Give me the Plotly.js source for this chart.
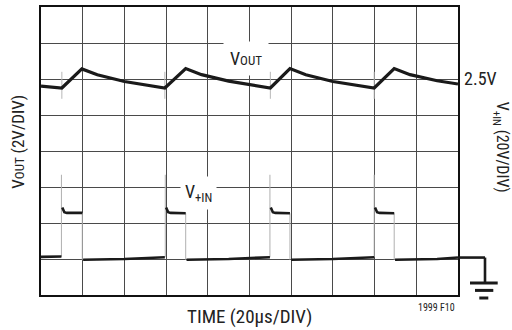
<!DOCTYPE html>
<html>
<head>
<meta charset="utf-8">
<script src="https://cdn.plot.ly/plotly-3.0.1.min.js"></script>
<style>html,body{margin:0;padding:0;background:#fff;}#chart{width:512px;height:330px;}</style>
</head>
<body>
<div id="chart"></div>
<script>
// Time in divisions (20us/div), amplitude in vertical divisions
var voutTime = [0, 0.50, 0.98, 1.35, 2.0, 2.97, 3.47, 3.85, 4.5, 5.50, 5.97, 6.35, 7.0, 7.99, 8.47, 8.85, 9.5, 10];
var voutLevel = [5.80, 5.75, 6.28, 6.12, 5.93, 5.75, 6.29, 6.12, 5.94, 5.75, 6.29, 6.12, 5.93, 5.75, 6.29, 6.12, 5.95, 5.86];

var voutGlitchTime = [0.50, 0.50, null, 2.97, 2.97, null, 5.50, 5.50, null, 7.99, 7.99];
var voutGlitchLevel = [6.20, 5.45, null, 6.20, 5.45, null, 6.20, 5.45, null, 6.20, 5.45];

var vinTime = [0, 0.49, null, 0.51, 0.56, 0.62, 0.99, null, 1.01, 2.0, 2.97, null,
               3.00, 3.05, 3.11, 3.47, null, 3.49, 4.5, 5.49, null,
               5.51, 5.56, 5.62, 5.97, null, 6.00, 7.0, 7.99, null,
               8.01, 8.06, 8.12, 8.47, null, 8.49, 9.5, 10];
var vinLevel = [1.06, 1.07, null, 2.43, 2.30, 2.28, 2.28, null, 0.98, 1.00, 1.05, null,
                2.43, 2.30, 2.28, 2.27, null, 0.98, 1.00, 1.05, null,
                2.43, 2.30, 2.28, 2.27, null, 0.98, 1.00, 1.05, null,
                2.43, 2.30, 2.28, 2.27, null, 0.98, 1.00, 1.04];

var vinEdgeTime = [0.49, 0.49, null, 0.99, 0.99, null, 2.98, 2.98, null, 3.47, 3.47, null,
                   5.49, 5.49, null, 5.97, 5.97, null, 7.99, 7.99, null, 8.47, 8.47];
var vinEdgeLevel = [1.06, 3.34, null, 2.28, 0.98, null, 1.05, 3.34, null, 2.27, 0.98, null,
                    1.05, 3.34, null, 2.27, 0.98, null, 1.05, 3.34, null, 2.27, 0.98];

var groundLevel = 1.04;
var xDivs = 10, yDivs = 8;

var FONT = '"Liberation Sans Narrow", "Roboto Condensed", "Arial Narrow", "Liberation Sans", sans-serif';

var traces = [
  {x: vinEdgeTime, y: vinEdgeLevel, mode: 'lines', line: {color: '#b0b0b0', width: 1}, hoverinfo: 'skip', connectgaps: false},
  {x: voutGlitchTime, y: voutGlitchLevel, mode: 'lines', line: {color: '#b8b8b8', width: 1}, hoverinfo: 'skip', connectgaps: false},
  {x: voutTime, y: voutLevel, mode: 'lines', line: {color: '#1a1a1a', width: 3.2}, hoverinfo: 'skip'},
  {x: vinTime, y: vinLevel, mode: 'lines', line: {color: '#1a1a1a', width: 2.6}, hoverinfo: 'skip', connectgaps: false}
];

function px2x(p) { return (p - 41) / 417; }
function px2y(p) { return (295.3 - p) / 288; }

var gy = groundLevel / yDivs;
var shapes = [
  {type: 'line', xref: 'paper', yref: 'paper', x0: 1, x1: px2x(485), y0: gy, y1: gy, line: {color: '#1a1a1a', width: 2.6}},
  {type: 'line', xref: 'paper', yref: 'paper', x0: px2x(485), x1: px2x(485), y0: gy, y1: px2y(283.3), line: {color: '#1a1a1a', width: 2.6}},
  {type: 'line', xref: 'paper', yref: 'paper', x0: px2x(470), x1: px2x(497.7), y0: px2y(283.3), y1: px2y(283.3), line: {color: '#1a1a1a', width: 3}},
  {type: 'line', xref: 'paper', yref: 'paper', x0: px2x(475), x1: px2x(493.3), y0: px2y(290.7), y1: px2y(290.7), line: {color: '#1a1a1a', width: 3}},
  {type: 'line', xref: 'paper', yref: 'paper', x0: px2x(479.3), x1: px2x(488.3), y0: px2y(298.3), y1: px2y(298.3), line: {color: '#1a1a1a', width: 3}}
];

function ann(o) {
  var base = {xref: 'paper', yref: 'paper', showarrow: false, xanchor: 'center', yanchor: 'middle'};
  for (var k in o) base[k] = o[k];
  return base;
}

var annotations = [
  ann({text: 'V<span style="font-size:13px">OUT</span>', x: px2x(246), y: px2y(59),
   bgcolor: '#ffffff', borderpad: 6, font: {family: FONT, size: 18, color: '#222'}}),
  ann({text: 'V<sub>+IN</sub>', x: px2x(198), y: px2y(193),
   bgcolor: '#ffffff', borderpad: 4, font: {family: FONT, size: 18, color: '#222'}}),
  ann({text: '2.5V', x: px2x(462), y: px2y(79), xanchor: 'left',
   font: {family: FONT, size: 18, color: '#222'}}),
  ann({text: 'V<span style="font-size:13px">OUT</span> (2V/DIV)', x: px2x(18), y: px2y(142),
   textangle: -90, font: {family: FONT, size: 17, color: '#222'}}),
  ann({text: 'V<sub>+IN</sub> (20V/DIV)', x: px2x(501), y: px2y(147),
   textangle: 90, font: {family: FONT, size: 16, color: '#222'}}),
  ann({text: 'TIME (20µs/DIV)', x: px2x(249), y: px2y(317),
   font: {family: FONT, size: 19, color: '#222'}}),
  ann({text: '1999 F10', x: px2x(436), y: px2y(308),
   font: {family: FONT, size: 10, color: '#222'}})
];

var layout = {
  width: 512, height: 330,
  margin: {l: 41, r: 54, t: 7, b: 34.7, pad: 0},
  paper_bgcolor: '#ffffff', plot_bgcolor: '#ffffff',
  showlegend: false,
  xaxis: {range: [0, xDivs], dtick: 1, tick0: 0, showgrid: true, gridcolor: '#4a4a4a', gridwidth: 1,
          showticklabels: false, ticks: '', zeroline: false, showline: true, mirror: true, linecolor: '#111', linewidth: 1.6, fixedrange: true},
  yaxis: {range: [0, yDivs], dtick: 1, tick0: 0, showgrid: true, gridcolor: '#4a4a4a', gridwidth: 1,
          showticklabels: false, ticks: '', zeroline: false, showline: true, mirror: true, linecolor: '#111', linewidth: 1.6, fixedrange: true},
  shapes: shapes,
  annotations: annotations
};

Plotly.newPlot('chart', traces, layout, {staticPlot: true, displayModeBar: false});
</script>
</body>
</html>
